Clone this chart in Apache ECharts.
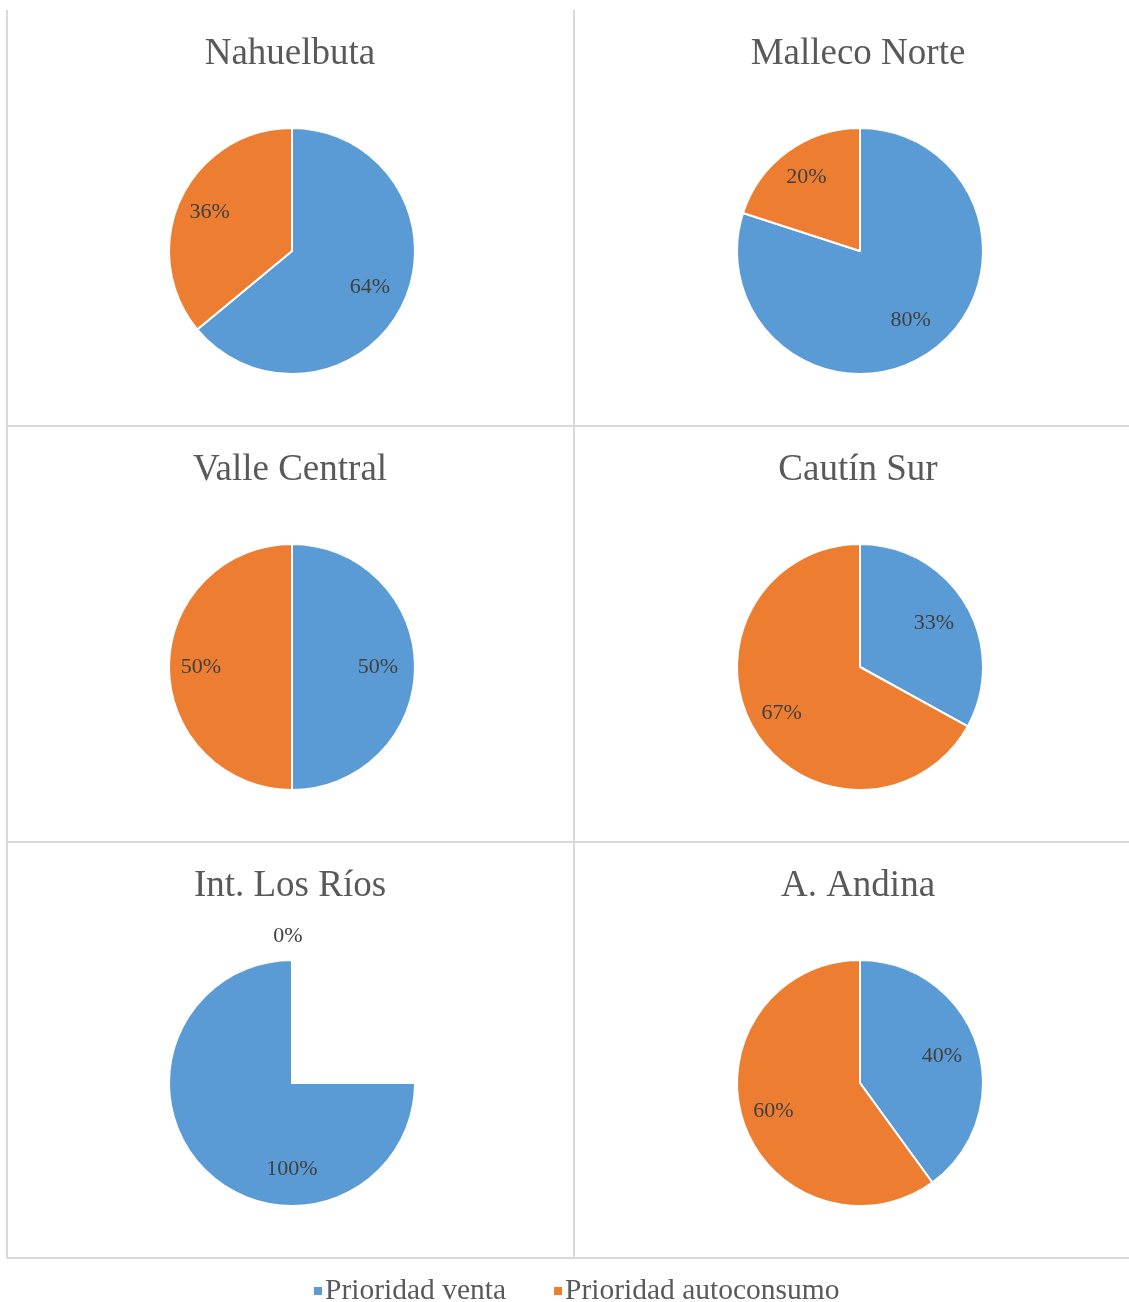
<!DOCTYPE html>
<html lang="es">
<head>
<meta charset="UTF-8">
<title>Prioridad venta / autoconsumo</title>
<script src="https://cdn.jsdelivr.net/npm/echarts@6/dist/echarts.min.js"></script>
<style>
  html, body { margin: 0; padding: 0; background: #fff; }
</style>
</head>
<body>
<div id="main" style="width:1129px;height:1302px;"></div>
<script>
// datos
var regiones = ['Nahuelbuta', 'Malleco Norte', 'Valle Central', 'Cautín Sur', 'Int. Los Ríos', 'A. Andina'];
var nombresSerie = ['Prioridad venta', 'Prioridad autoconsumo'];
var venta = [64, 80, 50, 33, 100, 40];        // %
var autoconsumo = [36, 20, 50, 67, 0, 60];    // %

var colores = ['#5B9BD5', '#ED7D31'];
var fuente = '"Liberation Serif", "Times New Roman", serif';

var colX = [292, 860];
var filaY = [251, 667, 1083];
var tituloY = [52, 468, 884];
var radio = 123;
// distancia de las etiquetas al centro (venta, autoconsumo, valor 0)
var distEtiq = [86, 91, 147];

// el original dibuja el 100% de Int. Los Ríos sin el cuadrante superior derecho
var angIni = [90, 90, 90, 90, 0, 90];
var angFin = ['auto', 'auto', 'auto', 'auto', -270, 'auto'];

var chart = echarts.init(document.getElementById('main'));

var titulos = [];
var series = [];
for (var i = 0; i < regiones.length; i++) {
  var cx = colX[i % 2];
  var cy = filaY[Math.floor(i / 2)];
  titulos.push({
    text: regiones[i],
    left: cx - 2,
    top: tituloY[Math.floor(i / 2)] - 16,
    padding: 0,
    textAlign: 'center',
    textStyle: { fontFamily: fuente, fontSize: 37, fontWeight: 'normal', color: '#595959' }
  });
  var datos = [
    { name: nombresSerie[0], value: venta[i] },
    { name: nombresSerie[1], value: autoconsumo[i] }
  ];
  // tarta
  series.push({
    type: 'pie',
    center: [cx, cy],
    radius: [0, radio],
    startAngle: angIni[i],
    endAngle: angFin[i],
    clockwise: true,
    color: colores,
    itemStyle: { borderColor: '#fff', borderWidth: 2 },
    label: { show: false },
    labelLine: { show: false },
    emphasis: { disabled: true },
    silent: true,
    data: datos
  });
  // etiquetas (tarta transparente, se desplazan como en Excel)
  series.push({
    type: 'pie',
    center: [cx, cy],
    radius: [0, radio],
    startAngle: 90,
    clockwise: true,
    itemStyle: { color: 'transparent', borderWidth: 0 },
    label: {
      show: true,
      position: 'inside',
      formatter: '{c}%',
      fontFamily: fuente,
      fontSize: 22,
      color: '#404040'
    },
    labelLine: { show: false },
    labelLayout: (function (cx, cy, k) {
      return function (p) {
        var r = p.labelRect;
        var vx = r.x + r.width / 2 - cx;
        var vy = r.y + r.height / 2 - cy;
        var d = Math.sqrt(vx * vx + vy * vy) || 1;
        var objetivo = distEtiq[p.dataIndex];
        var val = p.dataIndex === 0 ? venta[k] : autoconsumo[k];
        if (val === 0) {
          objetivo = distEtiq[2];
          return { dx: vx / d * (objetivo - d) - 4, dy: vy / d * (objetivo - d) };
        }
        return { dx: vx / d * (objetivo - d), dy: vy / d * (objetivo - d) };
      };
    })(cx, cy, i),
    emphasis: { disabled: true },
    silent: true,
    legendHoverLink: false,
    data: datos
  });
}

var gris = '#D9D9D9';
function linea(x1, y1, x2, y2) {
  return {
    type: 'line',
    silent: true,
    shape: { x1: x1, y1: y1, x2: x2, y2: y2 },
    style: { stroke: gris, lineWidth: 2 }
  };
}

chart.setOption({
  animation: false,
  title: titulos,
  legend: {
    data: nombresSerie,
    top: 1276,
    left: 312,
    padding: 0,
    icon: 'rect',
    itemWidth: 10,
    itemHeight: 10,
    itemGap: 46,
    selectedMode: false,
    textStyle: { fontFamily: fuente, fontSize: 29.5, color: '#595959', padding: [0, 0, 0, -3] }
  },
  graphic: [
    linea(7, 10, 7, 1258),
    linea(574, 10, 574, 1258),
    linea(7, 426, 1129, 426),
    linea(7, 842, 1129, 842),
    linea(7, 1258, 1129, 1258)
  ],
  series: series
});
</script>
</body>
</html>
